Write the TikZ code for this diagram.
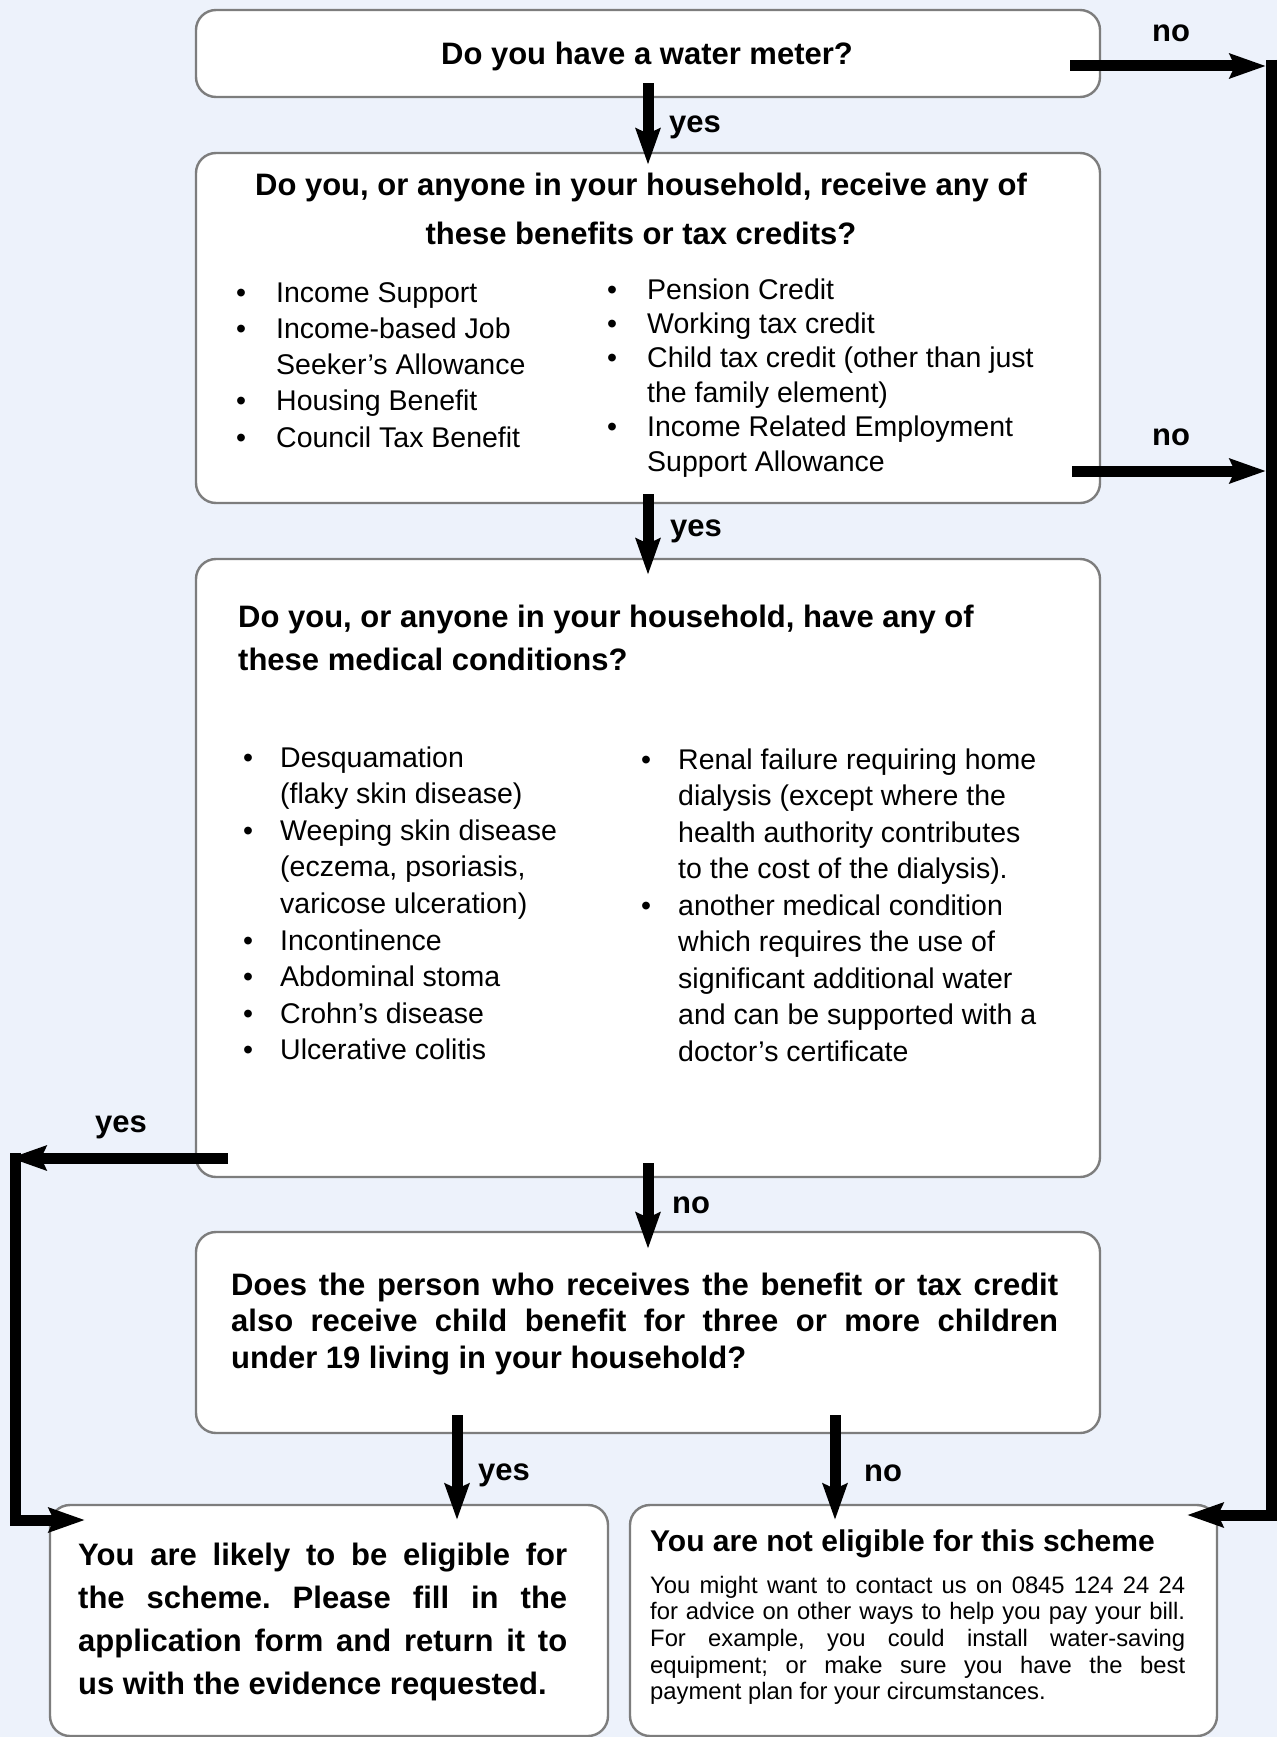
\documentclass[tikz,border=0pt]{standalone}
\usepackage{fontspec}
\setmainfont{Liberation Sans}
\usetikzlibrary{arrows.meta}
\frenchspacing
\definecolor{bgblue}{RGB}{237,242,251}
\definecolor{boxgray}{RGB}{125,125,125}
\newcommand{\hdfont}{\fontsize{31}{37}\selectfont\bfseries}
\newlength{\bind}
\newcommand{\bul}{\makebox[\bind][l]{\textbullet}}
\newcommand{\cnt}{\hspace*{\bind}}
\tikzset{
  box/.style={draw=boxgray, line width=2.4pt, fill=white, rounded corners=20pt, inner sep=0pt},
  arr/.style={line width=11pt, line join=miter, -{Stealth[length=36pt,width=24pt,inset=5pt]}},
  lbl/.style={font=\hdfont, inner sep=0pt, anchor=mid west},
  txt/.style={inner sep=0pt, anchor=base west},
}
\begin{document}
\begin{tikzpicture}[x=1pt,y=-1pt]
\frenchspacing
\useasboundingbox (0,0) rectangle (1277,1737);
\fill[bgblue] (0,0) rectangle (1277,1737);

% boxes
\node[box, minimum width=904pt, minimum height=87pt] (box1) at (648,53.5) {};
\node[box, minimum width=904pt, minimum height=350pt] (box2) at (648,328) {};
\node[box, minimum width=904pt, minimum height=618pt] (box3) at (648,868) {};
\node[box, minimum width=904pt, minimum height=201pt] (box4) at (648,1332.5) {};
\node[box, minimum width=558pt, minimum height=231pt] (box5) at (329,1620.5) {};
\node[box, minimum width=587pt, minimum height=231pt] (box6) at (923.5,1620.5) {};

% connector end points
\coordinate (n1s) at (1070,66);
\coordinate (n1e) at (1266,66);
\coordinate (n2s) at (1072,471);
\coordinate (n2e) at (1266,471);
\coordinate (rtop) at (1271,60);
\coordinate (rbot) at (1271,1515);
\coordinate (r6) at (1187,1515);
\coordinate (y3s) at (228,1158);
\coordinate (y3e) at (10,1158);
\coordinate (ltop) at (15,1152.5);
\coordinate (lbot) at (15,1520);
\coordinate (l5) at (85,1520);
\coordinate (y4s) at (457,1415);
\coordinate (y4e) at (457,1520);
\coordinate (n4s) at (835,1415);
\coordinate (n4e) at (835,1520);

% connectors
\draw[arr] ([yshift=15pt]box1.south) -- ([yshift=-13pt]box2.north);
\draw[arr] ([yshift=10pt]box2.south) -- ([yshift=-17pt]box3.north);
\draw[arr] ([yshift=15pt]box3.south) -- ([yshift=-18pt]box4.north);
\draw[arr] (n1s) -- (n1e);
\draw[arr] (n2s) -- (n2e);
\draw[arr] (rtop) -- (rbot) -- (r6);
\draw[arr] (y3s) -- (y3e);
\draw[arr] (ltop) -- (lbot) -- (l5);
\draw[arr] (y4s) -- (y4e);
\draw[arr] (n4s) -- (n4e);

% labels
\node[lbl] (lno1) at (1152,39) {no};
\node[lbl] (lyes1) at (669,130) {yes};
\node[lbl] (lno2) at (1152,443) {no};
\node[lbl] (lyes2) at (670,534) {yes};
\node[lbl] (lyes3) at (95,1130) {yes};
\node[lbl] (lno3) at (672,1211) {no};
\node[lbl] (lyes4) at (478,1478) {yes};
\node[lbl] (lno4) at (864,1479) {no};

% box 1 text
\node[inner sep=0pt, anchor=base] (t1) at (647,64) {\hdfont Do you have a water meter?};

% box 2 text
\node[inner sep=0pt, anchor=base] (t2h) at (641,195) {\fontsize{31}{49}\selectfont\bfseries\parbox[t]{900pt}{\centering Do you, or anyone in your household, receive any of\\ these benefits or tax credits?}};
\node[txt] (t2l) at (236,302) {\fontsize{28.5}{36.3}\selectfont\setlength{\bind}{40pt}\parbox[t]{360pt}{%
\bul Income Support\\
\bul Income-based Job\\
\cnt Seeker’s Allowance\\
\bul Housing Benefit\\
\bul Council Tax Benefit}};
\node[txt] (t2r) at (607,299) {\fontsize{28.5}{34.4}\selectfont\setlength{\bind}{40pt}\parbox[t]{460pt}{%
\bul Pension Credit\\
\bul Working tax credit\\
\bul Child tax credit (other than just\\
\cnt the family element)\\
\bul Income Related Employment\\
\cnt Support Allowance}};

% box 3 text
\node[txt] (t3h) at (238,627) {\fontsize{31}{43}\selectfont\bfseries\parbox[t]{850pt}{Do you, or anyone in your household, have any of\\ these medical conditions?}};
\node[txt] (t3l) at (243,767) {\fontsize{28.5}{36.6}\selectfont\setlength{\bind}{37pt}\parbox[t]{360pt}{%
\bul Desquamation\\
\cnt (flaky skin disease)\\
\bul Weeping skin disease\\
\cnt (eczema, psoriasis,\\
\cnt varicose ulceration)\\
\bul Incontinence\\
\bul Abdominal stoma\\
\bul Crohn’s disease\\
\bul Ulcerative colitis}};
\node[txt] (t3r) at (641,769) {\fontsize{28.5}{36.5}\selectfont\setlength{\bind}{37pt}\parbox[t]{420pt}{%
\bul Renal failure requiring home\\
\cnt dialysis (except where the\\
\cnt health authority contributes\\
\cnt to the cost of the dialysis).\\
\bul another medical condition\\
\cnt which requires the use of\\
\cnt significant additional water\\
\cnt and can be supported with a\\
\cnt doctor’s certificate}};

% box 4 text
\node[txt] (t4) at (231,1295) {\fontsize{31}{36.8}\selectfont\bfseries\parbox[t]{827pt}{%
\makebox[827pt][s]{Does the person who receives the benefit or tax credit}\\
\makebox[827pt][s]{also receive child benefit for three or more children}\\
under 19 living in your household?}};

% box 5 text
\node[txt] (t5) at (78,1565) {\fontsize{31}{43}\selectfont\bfseries\parbox[t]{489pt}{%
\makebox[489pt][s]{You are likely to be eligible for}\\
\makebox[489pt][s]{the scheme. Please fill in the}\\
\makebox[489pt][s]{application form and return it to}\\
us with the evidence requested.}};

% box 6 text
\node[txt] (t6h) at (650,1551) {\fontsize{30}{36}\selectfont\bfseries You are not eligible for this scheme};
\node[txt] (t6) at (650,1593) {\fontsize{23.8}{26.7}\selectfont\parbox[t]{535pt}{%
\makebox[535pt][s]{You might want to contact us on 0845 124 24 24}\\
\makebox[535pt][s]{for advice on other ways to help you pay your bill.}\\
\makebox[535pt][s]{For example, you could install water-saving}\\
\makebox[535pt][s]{equipment; or make sure you have the best}\\
payment plan for your circumstances.}};
\end{tikzpicture}
\end{document}
